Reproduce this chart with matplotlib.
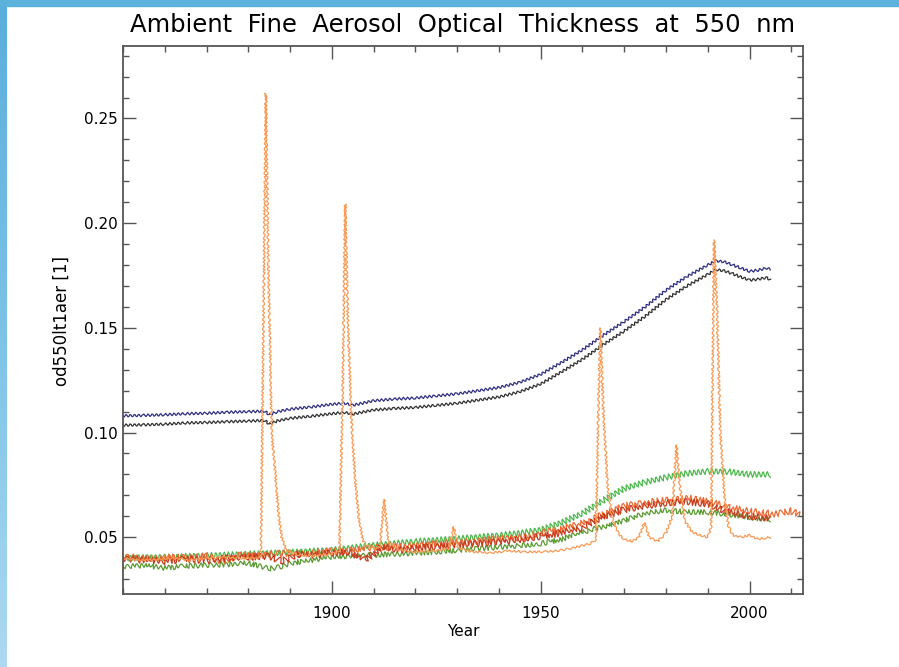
import numpy as np
import matplotlib
matplotlib.use('Agg')
import matplotlib.pyplot as plt
from matplotlib.colors import LinearSegmentedColormap
from matplotlib.patches import Rectangle
from matplotlib.ticker import MultipleLocator

# --- data ---
navy_years = [1850, 1855, 1860, 1865, 1870, 1875, 1880, 1884, 1885, 1887, 1890, 1895, 1900, 1903, 1905,
              1910, 1915, 1920, 1925, 1930, 1935, 1940, 1945, 1950, 1955, 1960, 1965, 1970, 1975,
              1980, 1985, 1990, 1992, 1994, 1996, 1998, 2000, 2002, 2004, 2005]
navy_vals = [0.1080, 0.1082, 0.1085, 0.1090, 0.1092, 0.1097, 0.1100, 0.1102, 0.1085, 0.1100, 0.1112,
             0.1122, 0.1135, 0.1140, 0.1130, 0.1152, 0.1160, 0.1165, 0.1175, 0.1185, 0.1200, 0.1215,
             0.1240, 0.1278, 0.1335, 0.1395, 0.1465, 0.1530, 0.1600, 0.1680, 0.1745, 0.1800, 0.1820,
             0.1815, 0.1800, 0.1785, 0.1770, 0.1775, 0.1785, 0.1780]

black_years = navy_years
black_vals = [0.1035, 0.1037, 0.1040, 0.1046, 0.1048, 0.1052, 0.1055, 0.1058, 0.1040, 0.1056, 0.1068,
              0.1078, 0.1090, 0.1096, 0.1088, 0.1108, 0.1115, 0.1120, 0.1130, 0.1140, 0.1155, 0.1170,
              0.1195, 0.1232, 0.1290, 0.1350, 0.1420, 0.1485, 0.1555, 0.1635, 0.1700, 0.1755, 0.1778,
              0.1772, 0.1758, 0.1742, 0.1728, 0.1732, 0.1740, 0.1730]

green_years = [1850, 1860, 1870, 1880, 1890, 1900, 1910, 1920, 1930, 1940, 1945, 1950, 1955, 1960,
               1965, 1970, 1975, 1980, 1985, 1990, 1995, 2000, 2005]
green_vals = [0.0401, 0.0405, 0.0412, 0.0420, 0.0428, 0.0439, 0.0462, 0.0480, 0.0493, 0.0509, 0.0520,
              0.0535, 0.0570, 0.0614, 0.0676, 0.0733, 0.0763, 0.0786, 0.0805, 0.0815, 0.0813, 0.0800,
              0.0800]

dgreen_years = [1850, 1855, 1860, 1865, 1870, 1875, 1880, 1885, 1888, 1890, 1895, 1900, 1905, 1910,
                1915, 1920, 1925, 1930, 1935, 1940, 1945, 1950, 1955, 1960, 1965, 1970, 1975, 1980,
                1985, 1990, 1995, 2000, 2005]
dgreen_vals = [0.0360, 0.0365, 0.0353, 0.0362, 0.0367, 0.0370, 0.0377, 0.0350, 0.0360, 0.0377, 0.0390,
               0.0407, 0.0410, 0.0415, 0.0420, 0.0425, 0.0430, 0.0438, 0.0445, 0.0453, 0.0460, 0.0470,
               0.0490, 0.0525, 0.0550, 0.0580, 0.0614, 0.0630, 0.0620, 0.0620, 0.0610, 0.0594, 0.0585]

red_years = [1850, 1854, 1858, 1862, 1866, 1870, 1874, 1878, 1882, 1886, 1890, 1894, 1898, 1902, 1906,
             1910, 1914, 1918, 1922, 1926, 1930, 1934, 1938, 1942, 1946, 1950, 1954, 1958, 1962, 1966,
             1970, 1974, 1978, 1982, 1986, 1990, 1994, 1998, 2002, 2006, 2010, 2012]
red_vals = [0.0410, 0.0400, 0.0395, 0.0405, 0.0400, 0.0410, 0.0385, 0.0415, 0.0410, 0.0420, 0.0425,
            0.0420, 0.0430, 0.0435, 0.0440, 0.0450, 0.0455, 0.0460, 0.0465, 0.0470, 0.0480, 0.0475,
            0.0490, 0.0495, 0.0500, 0.0520, 0.0535, 0.0555, 0.0580, 0.0620, 0.0650, 0.0660, 0.0675,
            0.0680, 0.0685, 0.0670, 0.0650, 0.0630, 0.0620, 0.0610, 0.0625, 0.0605]

dred_years = [1850, 1855, 1860, 1865, 1870, 1875, 1880, 1885, 1888, 1892, 1896, 1900, 1904, 1908,
              1912, 1916, 1920, 1925, 1930, 1935, 1940, 1945, 1950, 1955, 1960, 1965, 1970, 1975,
              1980, 1985, 1990, 1995, 2000, 2005]
dred_vals = [0.0400, 0.0390, 0.0385, 0.0395, 0.0390, 0.0400, 0.0405, 0.0410, 0.0385, 0.0420, 0.0415,
             0.0425, 0.0430, 0.0390, 0.0455, 0.0440, 0.0450, 0.0455, 0.0465, 0.0470, 0.0480, 0.0490,
             0.0505, 0.0520, 0.0545, 0.0600, 0.0630, 0.0650, 0.0665, 0.0670, 0.0660, 0.0620, 0.0600,
             0.0590]

orange_years = [1850, 1854, 1858, 1862, 1866, 1870, 1874, 1878, 1882, 1883.0, 1883.6, 1884.2, 1884.8,
                1885.6, 1886.5, 1887.3, 1888.0, 1889.0, 1891, 1894, 1897, 1900, 1901.8, 1902.6,
                1903.2, 1903.9, 1904.6, 1905.5, 1906.5, 1907.5, 1909, 1911.5, 1912.5, 1913.5, 1916,
                1920, 1924, 1928, 1929.2, 1930.2, 1934, 1938, 1942, 1946, 1950, 1954, 1958, 1962,
                1963.2, 1963.8, 1964.3, 1965.0, 1966.0, 1967.0, 1968.5, 1970, 1972, 1973.5, 1974.8,
                1976, 1978, 1980, 1981.5, 1982.5, 1983.3, 1984.5, 1986, 1988, 1990, 1990.8, 1991.5,
                1992.2, 1993.0, 1994.0, 1995.0, 1996, 1998, 2000, 2002, 2005]
orange_vals = [0.0400, 0.0390, 0.0395, 0.0400, 0.0390, 0.0400, 0.0405, 0.0400, 0.0400, 0.0410, 0.1500,
               0.2620, 0.1800, 0.1000, 0.0800, 0.0600, 0.0500, 0.0440, 0.0420, 0.0410, 0.0415, 0.0420,
               0.0430, 0.1200, 0.2090, 0.1500, 0.1100, 0.0800, 0.0580, 0.0480, 0.0450, 0.0450, 0.0680,
               0.0480, 0.0440, 0.0430, 0.0435, 0.0445, 0.0550, 0.0450, 0.0430, 0.0425, 0.0435, 0.0430,
               0.0430, 0.0435, 0.0450, 0.0470, 0.0490, 0.1100, 0.1500, 0.1100, 0.0750, 0.0600, 0.0520,
               0.0490, 0.0480, 0.0500, 0.0570, 0.0500, 0.0480, 0.0520, 0.0600, 0.0940, 0.0750, 0.0580,
               0.0530, 0.0510, 0.0500, 0.0550, 0.1920, 0.1600, 0.1000, 0.0700, 0.0550, 0.0510, 0.0500,
               0.0510, 0.0490, 0.0500]

xticks = [1900, 1950, 2000]
yticks = [0.05, 0.10, 0.15, 0.20, 0.25]

fig = plt.figure(figsize=(8.99, 6.67), dpi=100)
ax = fig.add_axes([123 / 899, 73 / 667, 680 / 899, 548 / 667])

# slide background strips
cmap = LinearSegmentedColormap.from_list('strip', ['#5aaedb', '#7cc3e6', '#acd9ef'])
sax = fig.add_axes([0, 0, 7 / 899, 1])
sax.imshow(np.linspace(0, 1, 100).reshape(-1, 1), aspect='auto', cmap=cmap)
sax.axis('off')
fig.add_artist(Rectangle((0, 1 - 5.5 / 667), 1, 5.5 / 667, transform=fig.transFigure,
                         color='#5bb3dd', zorder=5))

# (years, values, colour, wiggle amplitude px, wiggle length px, randomness)
series = [
    (navy_years, navy_vals, '#2e2e80', 1.3, 4.2, 1.0),
    (black_years, black_vals, '#303030', 1.3, 4.2, 1.0),
    (green_years, green_vals, '#4cb84c', 3.0, 4.2, 1.0),
    (dgreen_years, dgreen_vals, '#5a9a30', 2.5, 5.0, 2.5),
    (red_years, red_vals, '#ec6a34', 3.3, 5.0, 2.5),
    (dred_years, dred_vals, '#c43c1c', 3.3, 5.0, 2.5),
    (orange_years, orange_vals, '#f99a55', 1.0, 5.0, 2.0),
]
for yrs, vals, col, amp, wl, rnd in series:
    line, = ax.plot(yrs, vals, color=col, lw=0.9)
    line.set_sketch_params(amp, wl, rnd)

ax.set_xlim(1850, 2012.8)
ax.set_ylim(0.0229, 0.2846)
ax.set_xticks(xticks)
ax.set_xticklabels([str(x) for x in xticks])
ax.set_yticks(yticks)
ax.set_yticklabels([f'{y:.2f}' for y in yticks])
ax.xaxis.set_minor_locator(MultipleLocator(10))
ax.yaxis.set_minor_locator(MultipleLocator(0.01))
ax.tick_params(which='both', direction='in', top=True, right=True, color='#555555', width=1.0,
               labelsize=11, labelcolor='black')
ax.tick_params(which='major', length=9.5)
ax.tick_params(which='minor', length=4.5)
ax.tick_params(axis='x', pad=9)
ax.tick_params(axis='y', pad=4)
for s in ax.spines.values():
    s.set_color('#555555')
    s.set_linewidth(1.3)

fig.text(462 / 899, 1 - 25 / 667, 'Ambient  Fine  Aerosol  Optical  Thickness  at  550  nm',
         ha='center', va='center', fontsize=17.5)
fig.text(62 / 899, 1 - 321 / 667, 'od550lt1aer [1]', rotation=90, ha='center', va='center',
         fontsize=12)
fig.text(463 / 899, 1 - 631 / 667, 'Year', ha='center', va='center', fontsize=11)

fig.savefig('out.png', dpi=100)
